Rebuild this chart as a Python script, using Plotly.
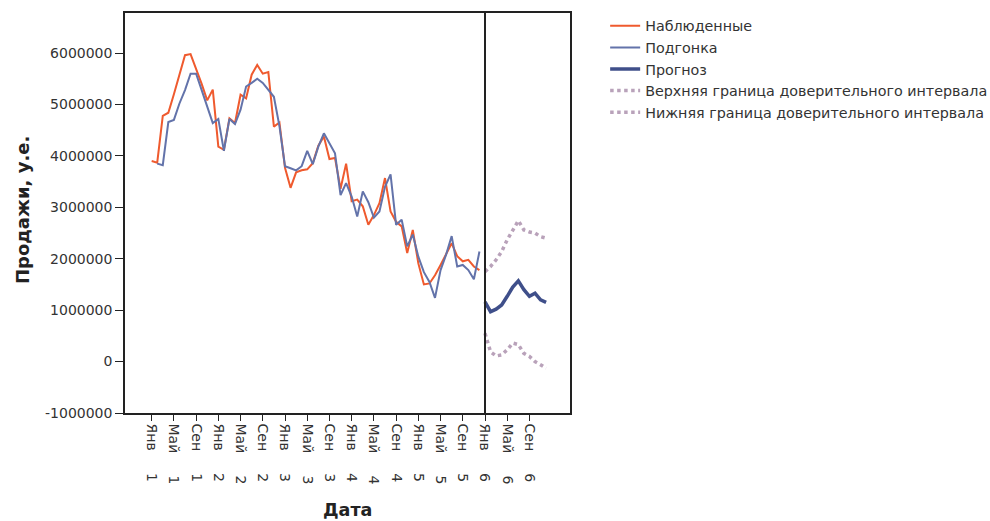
import plotly.graph_objects as go

# Monthly sales, months counted from January of year 1 (index 0)
observed = [
    3900000, 3870000, 4780000, 4840000, 5200000, 5580000, 5960000, 5980000, 5700000, 5400000,
    5080000, 5290000, 4180000, 4120000, 4730000, 4640000, 5190000, 5120000, 5580000, 5770000,
    5600000, 5630000, 4570000, 4650000, 3770000, 3380000, 3680000, 3720000, 3740000, 3860000,
    4200000, 4380000, 3940000, 3960000, 3360000, 3850000, 3120000, 3150000, 3020000, 2660000,
    2850000, 3080000, 3570000, 2920000, 2720000, 2630000, 2110000, 2560000, 1910000, 1500000,
    1520000, 1680000, 1880000, 2080000, 2300000, 2050000, 1950000, 1980000, 1850000, 1780000,
]

# Model fit starts with the second month
fitted = [
    3850000, 3820000, 4660000, 4700000, 5020000, 5280000, 5600000, 5600000, 5280000,
    4980000, 4640000, 4720000, 4100000, 4720000, 4620000, 4900000, 5350000, 5420000, 5500000,
    5420000, 5280000, 5150000, 4580000, 3800000, 3760000, 3720000, 3800000, 4100000, 3840000,
    4180000, 4440000, 4250000, 4050000, 3240000, 3470000, 3210000, 2820000, 3310000, 3100000,
    2800000, 2920000, 3400000, 3640000, 2660000, 2760000, 2240000, 2470000, 2040000, 1740000,
    1550000, 1240000, 1780000, 2080000, 2440000, 1850000, 1880000, 1780000, 1600000, 2140000,
]

# Forecast for year 6 with confidence bounds
forecast = [1160000, 970000, 1020000, 1100000, 1270000, 1450000, 1570000, 1400000, 1270000, 1330000, 1200000, 1150000]
upper_ci = [1750000, 1850000, 1980000, 2140000, 2370000, 2560000, 2740000, 2560000, 2520000, 2500000, 2430000, 2400000]
lower_ci = [550000, 190000, 110000, 130000, 230000, 360000, 330000, 160000, 100000, 0, -60000, -130000]

tick_months = ["Янв", "Май", "Сен"]
years = [1, 2, 3, 4, 5, 6]
y_ticks = [-1000000, 0, 1000000, 2000000, 3000000, 4000000, 5000000, 6000000]

x_obs = list(range(len(observed)))
x_fit = list(range(1, 1 + len(fitted)))
x_fc = list(range(len(observed), len(observed) + len(forecast)))

tick_vals = []
tick_text = []
gap = "\u00a0" * 5
for yi, yr in enumerate(years):
    for mi, mon in enumerate(tick_months):
        tick_vals.append(yi * 12 + mi * 4)
        tick_text.append(f"{mon}{gap}{yr}")

FONT = "DejaVu Sans"
fig = go.Figure()
fig.add_trace(go.Scatter(x=x_obs, y=observed, mode="lines", name="Наблюденные",
                         line=dict(color="#EF5A2E", width=2)))
fig.add_trace(go.Scatter(x=x_fit, y=fitted, mode="lines", name="Подгонка",
                         line=dict(color="#6373AA", width=2)))
fig.add_trace(go.Scatter(x=x_fc, y=forecast, mode="lines", name="Прогноз",
                         line=dict(color="#3F4F8A", width=3.5)))
fig.add_trace(go.Scatter(x=x_fc, y=upper_ci, mode="lines",
                         name="Верхняя граница доверительного интервала",
                         line=dict(color="#B9A2BA", width=3.5, dash="dot")))
fig.add_trace(go.Scatter(x=x_fc, y=lower_ci, mode="lines",
                         name="Нижняя граница доверительного интервала",
                         line=dict(color="#B9A2BA", width=3.5, dash="dot")))

# Boundary between history and forecast
fig.add_shape(type="line", xref="x", yref="paper", x0=60, x1=60, y0=0, y1=1,
              line=dict(color="#222222", width=2))

fig.update_xaxes(range=[-4.8, 75.3], tickmode="array", tickvals=tick_vals, ticktext=tick_text,
                 tickangle=90, ticks="outside", ticklen=6, tickcolor="#222", tickwidth=1,
                 showgrid=False, zeroline=False, showline=True, linecolor="#222", linewidth=1.5,
                 mirror=True, tickfont=dict(family=FONT, size=14, color="#333"))
fig.update_yaxes(range=[-1000000, 6780000], tickmode="array", tickvals=y_ticks,
                 ticktext=[str(v) for v in y_ticks],
                 ticks="outside", ticklen=8, tickcolor="#222", tickwidth=1,
                 showgrid=False, zeroline=False, showline=True, linecolor="#222", linewidth=1.5,
                 mirror=True, tickfont=dict(family=FONT, size=14, color="#333"))

fig.add_annotation(text="<b>Продажи, у.е.</b>", xref="paper", yref="paper",
                   x=-0.2315, y=0.5075, xanchor="center", yanchor="middle",
                   textangle=-90, showarrow=False,
                   font=dict(family=FONT, size=18, color="#222"))
fig.add_annotation(text="<b>Дата</b>", xref="paper", yref="paper",
                   x=0.499, y=-0.2425, xanchor="center", yanchor="middle", showarrow=False,
                   font=dict(family=FONT, size=17.5, color="#222"))

fig.update_layout(
    width=990, height=521,
    margin=dict(l=125, r=420, t=13, b=108, autoexpand=False),
    paper_bgcolor="white", plot_bgcolor="white",
    showlegend=True,
    legend=dict(x=1.079, y=1.0075, xanchor="left", yanchor="top",
                font=dict(family=FONT, size=14.3, color="#333"),
                tracegroupgap=0, bgcolor="rgba(0,0,0,0)"),
)

fig.write_html("out.html")
